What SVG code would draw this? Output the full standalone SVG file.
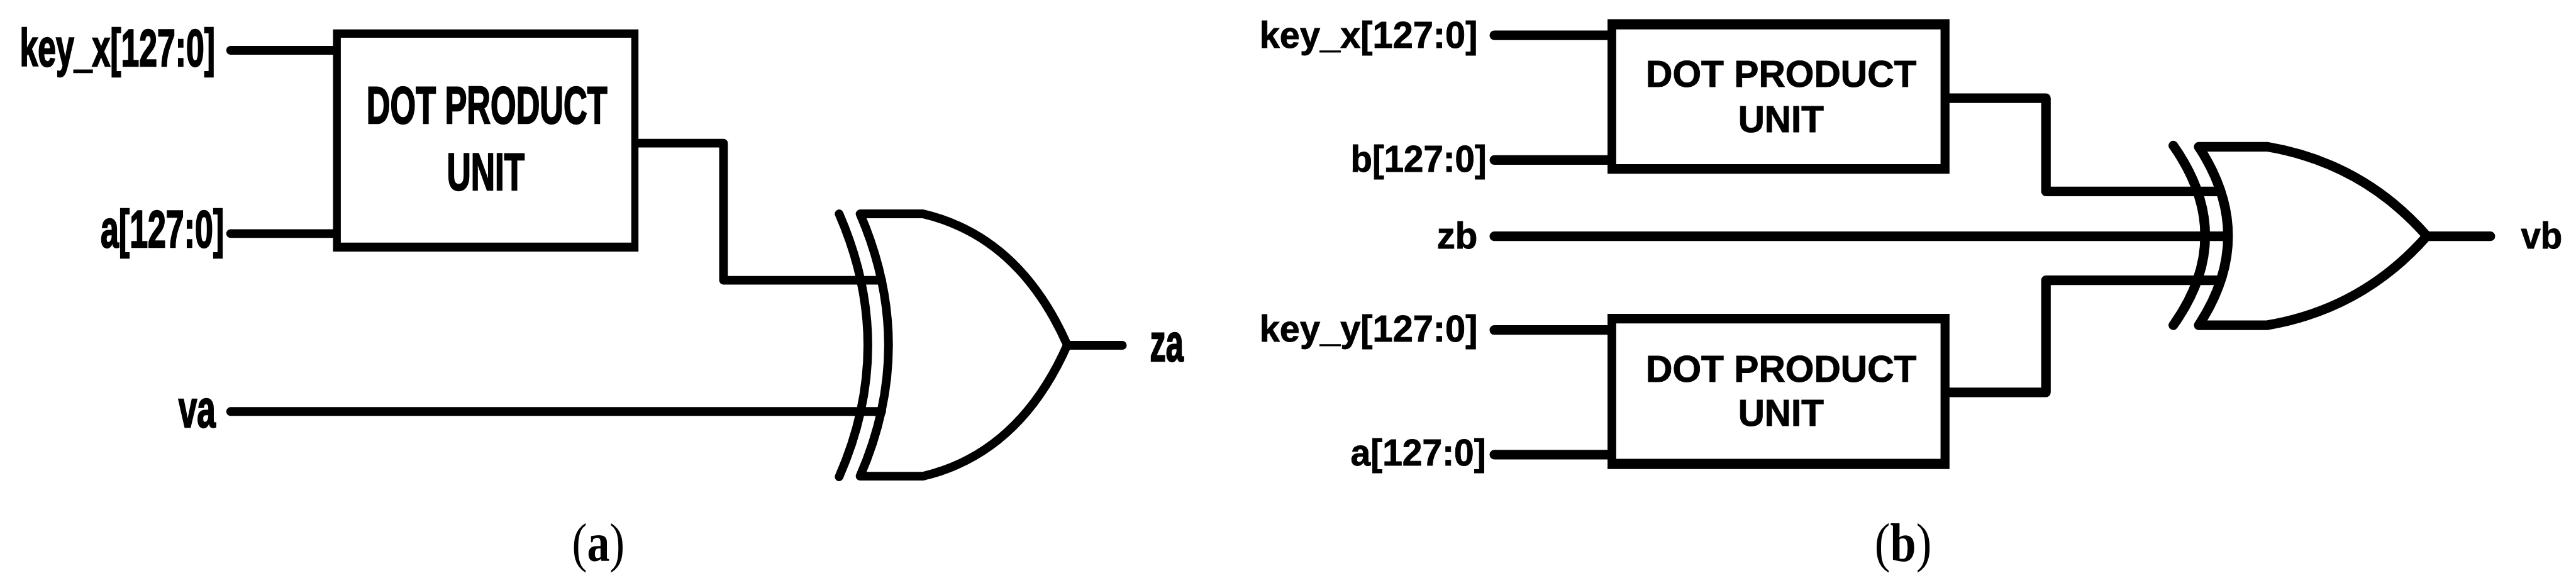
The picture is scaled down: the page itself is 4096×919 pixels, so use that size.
<svg xmlns="http://www.w3.org/2000/svg" width="4096" height="919" viewBox="0 0 4096 919">
<style>
.w{fill:none;stroke:#000;stroke-linecap:round;stroke-linejoin:round}
.a{stroke-width:14.5}
.b{stroke-width:16}
.box{fill:#000;fill-rule:evenodd}
text{fill:#000;font-family:"Liberation Sans",Arial,sans-serif;font-weight:bold}
.ta{font-size:88px;stroke:#000;stroke-width:2.500}
.tb{font-size:62px;stroke:#000;stroke-width:1}
.cap{font-family:"Liberation Serif","Times New Roman",serif;font-weight:normal;font-size:91px}
</style>
<rect width="4096" height="919" fill="#fff"/>
<g transform="scale(0.95234)">
<g id="connectors">
<path class="w a" d="M385 84H556M385 390H556M1066 239H1208V468H1472M385 687H1472M1785 576.500H1874"/>
<path class="w b" d="M2495 59H2684M2495 267H2684M2495 551H2684M2495 759H2684M2495 394.500H3714M3255 164H3416V319.500H3704M3255 655H3416V468H3704M4056 394.500H4158"/>
</g>
<g id="box-a"><path class="box" d="M556 49H1066V420H556ZM569 63V405H1054V63Z"/>
<text class="ta" x="612" y="206" textLength="402" lengthAdjust="spacingAndGlyphs">DOT PRODUCT</text>
<text class="ta" x="746" y="317" textLength="130" lengthAdjust="spacingAndGlyphs">UNIT</text></g>
<g id="xor-a">
<path class="w a" d="M1401 357Q1497 577 1401 796"/>
<path class="w a" d="M1436 357H1541Q1702 395 1782 576Q1702 757 1541 795H1436Q1531 577 1436 357Z"/>
</g>
<g id="labels-a">
<text class="ta" x="33" y="110" textLength="326" lengthAdjust="spacingAndGlyphs">key_x[127:0]</text>
<text class="ta" x="168" y="413" textLength="206" lengthAdjust="spacingAndGlyphs">a[127:0]</text>
<text class="ta" x="298" y="713" textLength="62" lengthAdjust="spacingAndGlyphs">va</text>
<text class="ta" x="1920" y="603" textLength="56" lengthAdjust="spacingAndGlyphs">za</text>
<text class="cap" x="955" y="937" textLength="88" lengthAdjust="spacingAndGlyphs">(<tspan font-weight="bold">a</tspan>)</text>
</g>
<g id="box-b1"><path class="box" d="M2684 32H3255V290H2684ZM2698.500 49V274H3240V49Z"/>
<text class="tb" x="2748" y="145" textLength="452" lengthAdjust="spacingAndGlyphs">DOT PRODUCT</text>
<text class="tb" x="2902" y="220" textLength="143" lengthAdjust="spacingAndGlyphs">UNIT</text></g>
<g id="box-b2"><path class="box" d="M2684 524H3255V783H2684ZM2698.500 540V766H3240V540Z"/>
<text class="tb" x="2748" y="637" textLength="452" lengthAdjust="spacingAndGlyphs">DOT PRODUCT</text>
<text class="tb" x="2902" y="711" textLength="143" lengthAdjust="spacingAndGlyphs">UNIT</text></g>
<g id="xor-b">
<path class="w b" d="M3628.600 243Q3735 394 3628.600 543"/>
<path class="w b" d="M3671 245H3785Q3945 272 4052 394Q3945 516 3785 543H3671Q3769 394 3671 245Z"/>
</g>
<g id="labels-b">
<text class="tb" x="2103" y="80" textLength="364" lengthAdjust="spacingAndGlyphs">key_x[127:0]</text>
<text class="tb" x="2255" y="287" textLength="227" lengthAdjust="spacingAndGlyphs">b[127:0]</text>
<text class="tb" x="2399" y="415" textLength="68" lengthAdjust="spacingAndGlyphs">zb</text>
<text class="tb" x="2103" y="570" textLength="364" lengthAdjust="spacingAndGlyphs">key_y[127:0]</text>
<text class="tb" x="2255" y="777" textLength="226" lengthAdjust="spacingAndGlyphs">a[127:0]</text>
<text class="tb" x="4209" y="415" textLength="69" lengthAdjust="spacingAndGlyphs">vb</text>
<text class="cap" x="3130" y="937" textLength="95" lengthAdjust="spacingAndGlyphs">(<tspan font-weight="bold">b</tspan>)</text>
</g>
</g>
</svg>
